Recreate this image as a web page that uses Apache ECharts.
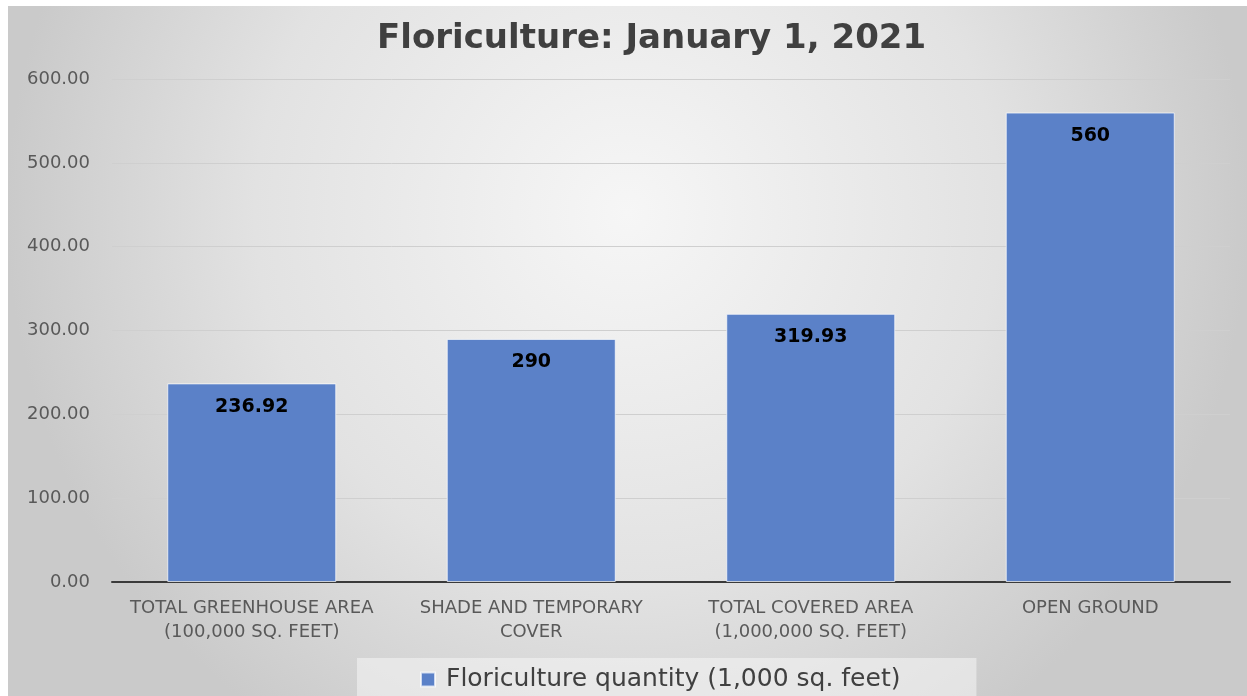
<!DOCTYPE html>
<html>
<head>
<meta charset="utf-8">
<script src="https://cdn.jsdelivr.net/npm/echarts@6/dist/echarts.min.js"></script>
<style>
html,body{margin:0;padding:0;background:#fff;width:1247px;height:696px;overflow:hidden;}
#c{position:absolute;left:8px;top:6px;width:1239px;height:690px;}
</style>
</head>
<body>
<div id="c"></div>
<script>
const categories = ['TOTAL GREENHOUSE AREA\n(100,000 SQ. FEET)', 'SHADE AND TEMPORARY\nCOVER', 'TOTAL COVERED AREA\n(1,000,000 SQ. FEET)', 'OPEN GROUND'];
const values = [236.92, 290, 319.93, 560];
const valueLabels = ['236.92', '290', '319.93', '560'];
const seriesName = 'Floriculture quantity (1,000 sq. feet)';
const titleText = 'Floriculture: January 1, 2021';

const font = '"DejaVu Sans", sans-serif';
const chart = echarts.init(document.getElementById('c'));
chart.setOption({
  backgroundColor: {
    type: 'radial', x: 0.5, y: 0.3, r: 0.9,
    colorStops: [
      {offset: 0, color: '#f6f6f6'},
      {offset: 0.6, color: '#e2e2e2'},
      {offset: 1, color: '#cacaca'}
    ]
  },
  textStyle: {fontFamily: font},
  title: {
    text: titleText, left: 364, top: 11,
    textStyle: {fontFamily: font, fontSize: 34, fontWeight: 'bold', color: '#404040'}
  },
  legend: {
    data: [seriesName], left: 349, top: 652,
    backgroundColor: 'rgba(245,245,245,0.55)',
    padding: [9, 76, 12, 63],
    itemWidth: 14, itemHeight: 14, icon: 'rect', itemGap: 8,
    textStyle: {fontFamily: font, fontSize: 25, color: '#404040', padding: [0, 0, 0, 6]}
  },
  grid: {left: 104, right: 17, top: 73, bottom: 114, containLabel: false},
  xAxis: {
    type: 'category', data: categories,
    axisLine: {lineStyle: {color: '#3a3a3a', width: 2}},
    axisTick: {show: false},
    axisLabel: {interval: 0, hideOverlap: false, fontFamily: font, fontSize: 18, color: '#595959', lineHeight: 24, margin: 14}
  },
  yAxis: {
    type: 'value', min: 0, max: 600, interval: 100,
    axisLine: {show: false}, axisTick: {show: false},
    splitLine: {lineStyle: {color: '#cfcfcf', width: 1}},
    axisLabel: {fontFamily: font, fontSize: 18, color: '#595959', margin: 22,
      formatter: v => v.toFixed(2)}
  },
  series: [{
    name: seriesName, type: 'bar', data: values, barWidth: 169,
    itemStyle: {color: '#5b81c8', borderColor: 'rgba(255,255,255,0.7)', borderWidth: 1},
    label: {
      show: true, position: 'insideTop', distance: 14,
      formatter: p => valueLabels[p.dataIndex],
      fontFamily: font, fontSize: 19, fontWeight: 'bold', color: '#000'
    }
  }]
});
</script>
</body>
</html>
